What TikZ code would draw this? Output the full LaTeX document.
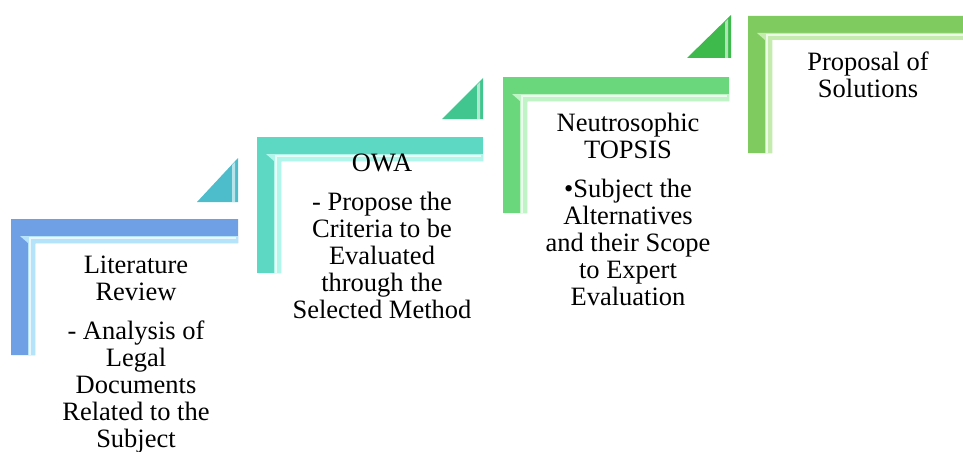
\documentclass[tikz,border=0pt]{standalone}
\usepackage{fontspec}
\setmainfont{Liberation Serif}
\usepackage{tikz}

\definecolor{blueMain}{HTML}{6F9FE5}
\definecolor{blueLight}{HTML}{B5E3FA}
\definecolor{tealMain}{HTML}{5DD8C3}
\definecolor{tealLight}{HTML}{B2F5EA}
\definecolor{greenMain}{HTML}{6BD77C}
\definecolor{greenLight}{HTML}{C0F4C6}
\definecolor{limeMain}{HTML}{80CB60}
\definecolor{limeLight}{HTML}{C5EBAF}
\definecolor{triTeal}{HTML}{4DBCCB}
\definecolor{triSea}{HTML}{40C68E}
\definecolor{triGreen}{HTML}{3DBA4B}

\begin{document}
\begin{tikzpicture}[x=1pt, y=-1pt,
    steptext/.style={anchor=north, inner sep=0pt, align=center,
      font=\fontsize{26.5}{27}\selectfont},
    glint/.style={draw=white, opacity=0.7, line width=1.5pt}]

    \useasboundingbox (0,0) rectangle (963,452);

    % Step 1: literature review
    \fill[blueMain] (11,219) -- (238,219) -- (238,243) -- (35,243) -- (35,355) -- (11,355) -- cycle;
    \fill[blueLight] (20,236) -- (238,236) -- (238,243) -- (35,243) -- (35,355) -- (28,355) -- (28,243) -- cycle;
    \draw[glint] (30,355) -- (30,238) -- (236,238);

    % Step 2: OWA
    \fill[tealMain] (257,137) -- (483,137) -- (483,161) -- (281,161) -- (281,273) -- (257,273) -- cycle;
    \fill[tealLight] (266,154) -- (483,154) -- (483,161) -- (281,161) -- (281,273) -- (274,273) -- (274,161) -- cycle;
    \draw[glint] (276,273) -- (276,156) -- (481,156);

    % Step 3: neutrosophic TOPSIS
    \fill[greenMain] (503,77) -- (729,77) -- (729,101) -- (527,101) -- (527,213) -- (503,213) -- cycle;
    \fill[greenLight] (512,94) -- (729,94) -- (729,101) -- (527,101) -- (527,213) -- (520,213) -- (520,101) -- cycle;
    \draw[glint] (522,213) -- (522,96) -- (727,96);

    % Step 4: proposal of solutions
    \fill[limeMain] (748,16) -- (963,16) -- (963,40) -- (772,40) -- (772,153) -- (748,153) -- cycle;
    \fill[limeLight] (757,33) -- (963,33) -- (963,40) -- (772,40) -- (772,153) -- (765,153) -- (765,40) -- cycle;
    \draw[glint] (767,153) -- (767,35) -- (963,35);

    % Triangles between the steps
    \fill[triTeal] (197,202) -- (238,158) -- (238,202) -- cycle;
    \fill[white, opacity=0.6] (232,165) -- (235,162) -- (235,202) -- (232,202) -- cycle;
    \fill[triSea] (442,119) -- (483,78) -- (483,119) -- cycle;
    \fill[white, opacity=0.6] (477,85) -- (480,82) -- (480,119) -- (477,119) -- cycle;
    \fill[triGreen] (687,58) -- (731,15) -- (731,58) -- cycle;
    \fill[white, opacity=0.6] (725,22) -- (728,19) -- (728,58) -- (725,58) -- cycle;

    % Labels
    \node[steptext] (lit) at (136,256)
      {Literature\\Review\\[12pt]- Analysis of\\Legal\\Documents\\Related to the\\Subject};
    \node[steptext] (owa) at (382,154)
      {OWA\\[12pt]- Propose the\\Criteria to be\\Evaluated\\through the\\Selected Method};
    \node[steptext] (topsis) at (628,113)
      {Neutrosophic\\TOPSIS\\[12pt]\textbullet Subject the\\Alternatives\\and their Scope\\to Expert\\Evaluation};
    \node[steptext] (sol) at (868,52)
      {Proposal of\\Solutions};

\end{tikzpicture}
\end{document}
